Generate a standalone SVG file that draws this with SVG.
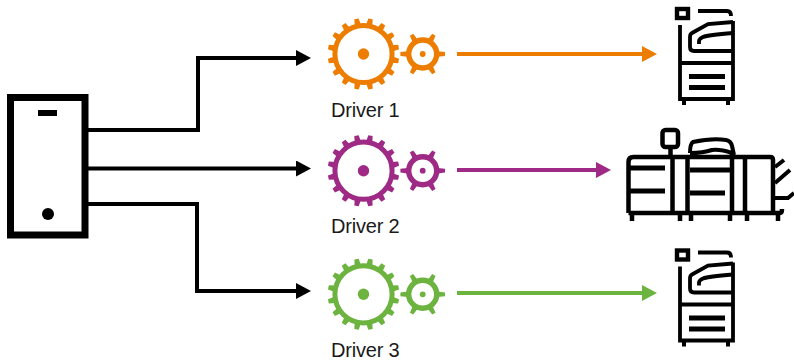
<svg xmlns="http://www.w3.org/2000/svg" width="794" height="364" viewBox="0 0 794 364">
<style>
text{font-family:"Liberation Sans",Arial,sans-serif;font-size:20px;fill:#1a1a1a;letter-spacing:-.2px}
.k{fill:none;stroke:#000;stroke-width:4}
.orange{color:#ed7d00}.purple{color:#9e2a86}.green{color:#6cb33f}
</style>
<defs>
<marker id="ak" markerUnits="userSpaceOnUse" markerWidth="16" markerHeight="16" refX="0" refY="8" orient="auto"><path d="M0 0L15 8L0 16Z" fill="#000"/></marker>
<marker id="ao" markerUnits="userSpaceOnUse" markerWidth="16" markerHeight="16" refX="0" refY="8" orient="auto"><path d="M0 0L15 8L0 16Z" fill="#ed7d00"/></marker>
<marker id="ap" markerUnits="userSpaceOnUse" markerWidth="16" markerHeight="16" refX="0" refY="8" orient="auto"><path d="M0 0L15 8L0 16Z" fill="#9e2a86"/></marker>
<marker id="ag" markerUnits="userSpaceOnUse" markerWidth="16" markerHeight="16" refX="0" refY="8" orient="auto"><path d="M0 0L15 8L0 16Z" fill="#6cb33f"/></marker>
<path id="t" d="M-3.200 -29L-2.200 -35.800H2.200L3.200 -29Z" fill="currentColor"/>
<path id="s" d="M-2.800 -15L-1.900 -22.300H1.900L2.800 -15Z" fill="currentColor"/>
<g id="gear">
<g>
<use href="#t" transform="rotate(11.25)"/><use href="#t" transform="rotate(33.75)"/><use href="#t" transform="rotate(56.25)"/><use href="#t" transform="rotate(78.75)"/>
<use href="#t" transform="rotate(101.25)"/><use href="#t" transform="rotate(123.75)"/><use href="#t" transform="rotate(146.25)"/><use href="#t" transform="rotate(168.75)"/>
<use href="#t" transform="rotate(191.25)"/><use href="#t" transform="rotate(213.75)"/><use href="#t" transform="rotate(236.25)"/><use href="#t" transform="rotate(258.75)"/>
<use href="#t" transform="rotate(281.25)"/><use href="#t" transform="rotate(303.75)"/><use href="#t" transform="rotate(326.25)"/><use href="#t" transform="rotate(348.75)"/>
</g>
<circle r="28.600" fill="none" stroke="currentColor" stroke-width="5"/>
<circle r="5.700" fill="currentColor"/>
<g transform="translate(59.2 0)">
<use href="#s" transform="rotate(30)"/><use href="#s" transform="rotate(90)"/><use href="#s" transform="rotate(150)"/><use href="#s" transform="rotate(210)"/><use href="#s" transform="rotate(270)"/><use href="#s" transform="rotate(330)"/>
<circle r="14" fill="none" stroke="currentColor" stroke-width="5.400"/>
<circle r="2.900" fill="currentColor"/>
</g>
</g>
<g id="printer" fill="none" stroke="#000" stroke-width="3.800">
<rect x="677" y="9" width="11" height="9" stroke-width="4.400"/>
<path d="M698 11H727Q731 11 731 16"/>
<path d="M680 25V99H733V21"/>
<path d="M680 63H733"/>
<path d="M733 22L708 24L692 33Q690 34 690 37V47Q690 51 694 51H733"/>
<path d="M699 44V41Q699 39 703 37Q708 35 733 33"/>
<path d="M689 76.500H725M689 87.500H725" stroke-width="5"/>
<path d="M684 99V105M728 99V105" stroke-width="4"/>
</g>
</defs>
<g id="connectors">
<path class="k" marker-end="url(#ak)" d="M88 130H198V58H296"/>
<path class="k" marker-end="url(#ak)" d="M88 168.500H296"/>
<path class="k" marker-end="url(#ak)" d="M88 204H197V291H296"/>
<path fill="none" stroke="#ed7d00" stroke-width="4" marker-end="url(#ao)" d="M457 54H642"/>
<path fill="none" stroke="#9e2a86" stroke-width="4" marker-end="url(#ap)" d="M457 170H596"/>
<path fill="none" stroke="#6cb33f" stroke-width="4" marker-end="url(#ag)" d="M457 293H642"/>
</g>
<g id="host">
<rect x="10.500" y="97.500" width="74.500" height="137.500" fill="#fff" stroke="#000" stroke-width="7"/>
<rect x="38" y="110" width="19" height="6"/>
<circle cx="48" cy="214" r="6"/>
</g>
<g id="driver1" class="orange"><use href="#gear" transform="translate(363.500 54)"/><text x="331" y="117">Driver 1</text></g>
<g id="driver2" class="purple"><use href="#gear" transform="translate(363.500 170.700)"/><text x="331" y="233">Driver 2</text></g>
<g id="driver3" class="green"><use href="#gear" transform="translate(363.500 294.300)"/><text x="331" y="357">Driver 3</text></g>
<g id="printer1"><use href="#printer"/></g>
<g id="printer2" fill="none" stroke="#000" stroke-width="4.500">
<rect x="662.500" y="130" width="15.500" height="17" rx="3"/>
<path d="M670.500 147V157"/>
<path d="M628.500 213V162Q628.500 157 633.500 157H770Q773 157 773 160V213"/>
<path d="M628.500 213H780Q782 213 782 209"/>
<path d="M630 168H665M630 191H665M690 170H732M690 193H725" stroke-width="5"/>
<path d="M672.500 157V213M687.500 157V213M732 153V213M745 157V213"/>
<path d="M690 153Q690 144 693 142Q712 138 726 140Q731 141 732 146L734 155M690 153Q703 153 712 150Q720 149 732 153" stroke-width="4"/>
<path d="M775 167L784 160M775 183L790 170M775 198H788L794 193" stroke-width="4"/>
<path d="M632 213V221M680 213V221M691 213V221M730 213V221M747 213V221M778 213V221" stroke-width="4.500"/>
</g>
<g id="printer3"><use href="#printer" transform="translate(0 241.500)"/></g>
</svg>
